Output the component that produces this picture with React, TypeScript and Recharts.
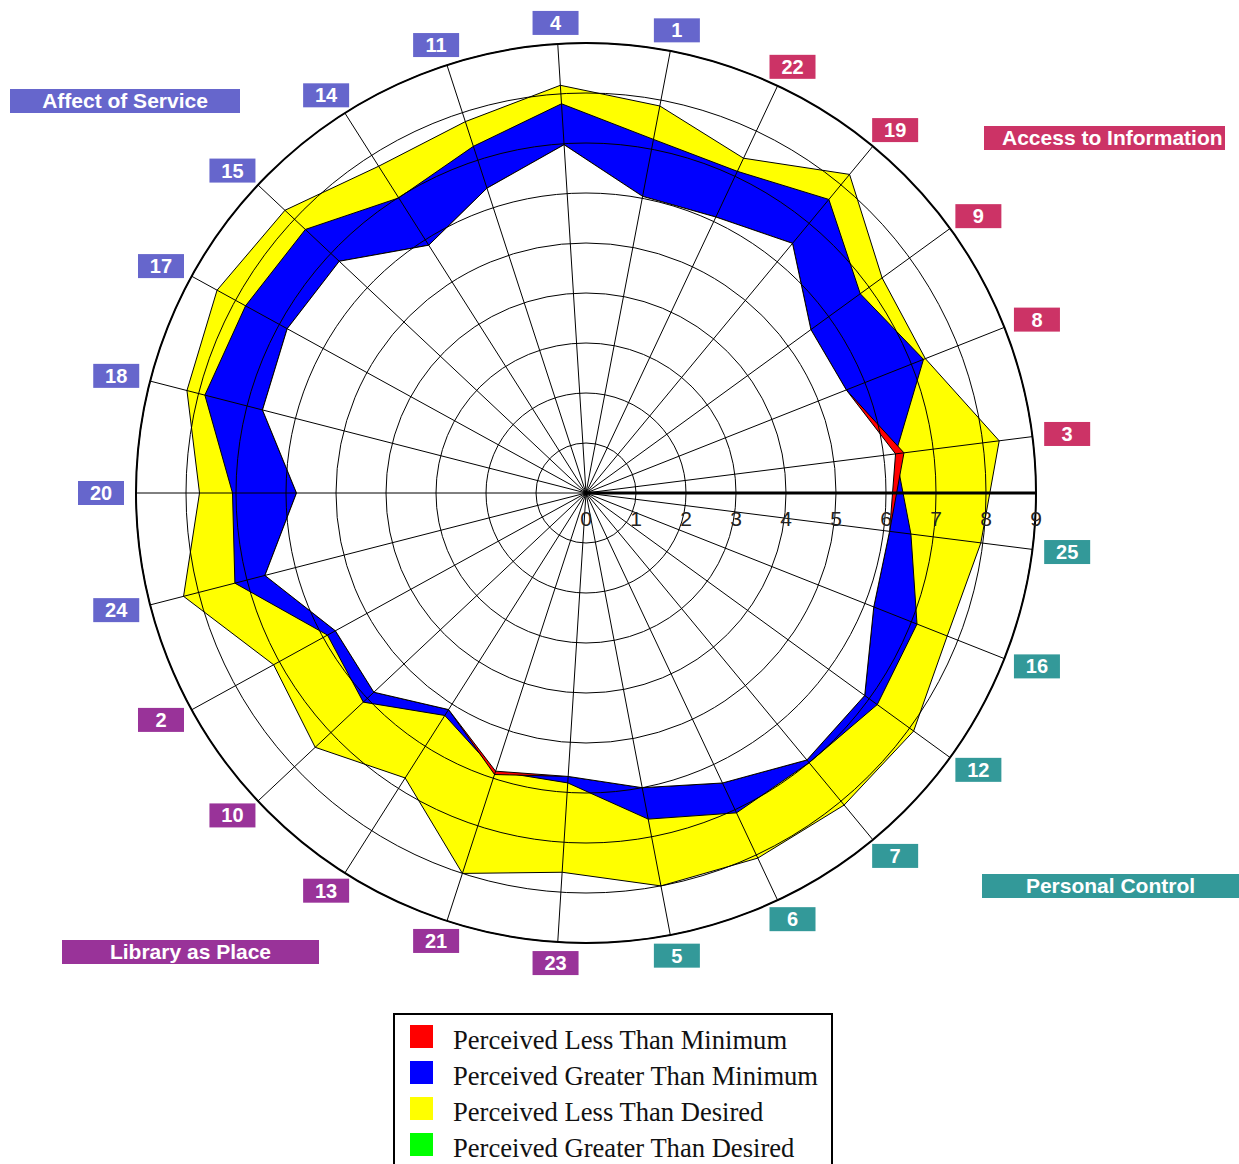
import React from 'react';
import { RadarChart, Radar, PolarGrid, PolarAngleAxis, PolarRadiusAxis } from 'recharts';

// items clockwise from the top
const items = ['4', '1', '22', '19', '9', '8', '3', '25', '16', '12', '7', '6', '5', '23', '21', '13', '10', '2', '24', '20', '18', '17', '15', '14', '11'];
const desired = [8.17, 7.88, 7.4, 8.27, 7.32, 7.3, 8.33, 7.96, 7.77, 8.1, 8.1, 8.07, 8.0, 7.6, 8.0, 6.75, 7.43, 7.13, 8.31, 7.73, 8.24, 8.42, 8.26, 7.74, 7.81];
const perceived = [7.8, 7.2, 7.11, 7.62, 6.78, 7.26, 6.24, 6.55, 7.12, 7.2, 7.0, 7.07, 6.64, 5.81, 5.85, 5.27, 6.11, 5.9, 7.25, 7.07, 7.87, 7.77, 7.7, 6.99, 7.29];
const minimum = [6.98, 6.04, 6.1, 6.48, 5.56, 5.6, 6.41, 6.12, 6.19, 6.89, 6.93, 6.41, 6.0, 5.68, 5.92, 5.13, 5.82, 5.72, 6.63, 5.79, 6.68, 6.82, 6.77, 5.87, 6.41];

const affectOfService = ['4', '1', '11', '14', '15', '17', '18', '20', '24'];
const accessToInformation = ['22', '19', '9', '8', '3'];
const personalControl = ['25', '16', '12', '7', '6', '5'];
const libraryAsPlace = ['23', '21', '13', '10', '2'];

const legendLabels = [
  'Perceived Less Than Minimum',
  'Perceived Greater Than Minimum',
  'Perceived Less Than Desired',
  'Perceived Greater Than Desired',
];
const legendColors = ['#ff0000', '#0000ff', '#ffff00', '#00ff00'];

const AFFECT = '#6666cc';
const ACCESS = '#cc3366';
const CONTROL = '#339999';
const PLACE = '#993399';

const CX = 586;
const CY = 493;
const R = 450;
const START = 93.6;
const SANS = '"Liberation Sans", Arial, sans-serif';
const SERIF = '"Liberation Serif", "Times New Roman", serif';

const data = items.map((item, i) => ({
  item,
  desired: desired[i],
  perceived: perceived[i],
  minimum: minimum[i],
  inner: Math.min(perceived[i], minimum[i]),
}));

function groupColor(item: string) {
  if (affectOfService.includes(item)) return AFFECT;
  if (accessToInformation.includes(item)) return ACCESS;
  if (personalControl.includes(item)) return CONTROL;
  return PLACE;
}

// boxes sit just outside the outer ring, pushed out more at the sides
function ItemTick(props: any) {
  const value = String(props.payload.value);
  const i = items.indexOf(value);
  const rad = ((START - (i * 360) / items.length) * Math.PI) / 180;
  const c = Math.cos(rad);
  const s = Math.sin(rad);
  const x = CX + (R + 35) * c;
  const y = CY - (R + 21) * s;
  return (
    <g>
      <rect x={x - 23} y={y - 12} width={46} height={24} fill={groupColor(value)} />
      <text x={x} y={y + 7} textAnchor="middle" fill="#fff" fontWeight="bold" fontSize={20} fontFamily={SANS}>
        {value}
      </text>
    </g>
  );
}

function ScaleTick(props: any) {
  return (
    <text x={props.x} y={props.y + 33} textAnchor="middle" fill="#222" fontSize={21} fontFamily={SANS}>
      {props.payload.value}
    </text>
  );
}

const groupBox = (left: number, top: number, width: number, color: string, text: string, extra: any = {}) => (
  <div
    style={{
      position: 'absolute',
      left,
      top,
      width,
      height: 24,
      lineHeight: '24px',
      background: color,
      color: '#fff',
      fontFamily: SANS,
      fontWeight: 'bold',
      fontSize: 21,
      textAlign: 'center',
      whiteSpace: 'nowrap',
      boxSizing: 'border-box',
      ...extra,
    }}
  >
    {text}
  </div>
);

export default function App() {
  return (
    <div style={{ position: 'absolute', left: 0, top: 0, width: 1239, height: 1164, overflow: 'hidden', background: '#fff' }}>
      <div style={{ position: 'absolute', left: 0, top: 0 }}>
        <RadarChart
          width={1239}
          height={1000}
          data={data}
          cx={CX}
          cy={CY}
          outerRadius={R}
          startAngle={START}
          endAngle={START - 360}
          margin={{ top: 0, right: 0, bottom: 0, left: 0 }}
        >
          <PolarAngleAxis
            dataKey="item"
            axisLineType="circle"
            axisLine={{ stroke: '#000', strokeWidth: 2 }}
            tickLine={false}
            tick={ItemTick}
          />
          <Radar dataKey="desired" fill="#ffff00" fillOpacity={1} stroke="#000" strokeWidth={1} dot={false} isAnimationActive={false} />
          <Radar dataKey="perceived" fill="#0000ff" fillOpacity={1} stroke="#000" strokeWidth={1} dot={false} isAnimationActive={false} />
          <Radar dataKey="minimum" fill="#ff0000" fillOpacity={1} stroke="#000" strokeWidth={1} dot={false} isAnimationActive={false} />
          <Radar dataKey="inner" fill="#ffffff" fillOpacity={1} stroke="#000" strokeWidth={1} dot={false} isAnimationActive={false} />
          <PolarGrid gridType="circle" stroke="#000" strokeWidth={1} zIndex={500} />
          <PolarRadiusAxis
            angle={0}
            domain={[0, 9]}
            type="number"
            tickCount={10}
            axisLine={{ stroke: '#000', strokeWidth: 3 }}
            tickLine={false}
            tick={ScaleTick}
            zIndex={600}
          />
        </RadarChart>
      </div>

      {groupBox(10, 89, 230, AFFECT, 'Affect of Service')}
      {groupBox(984, 126, 241, ACCESS, 'Access to Information', { textAlign: 'left', paddingLeft: 18 })}
      {groupBox(982, 874, 257, CONTROL, 'Personal Control')}
      {groupBox(62, 940, 257, PLACE, 'Library as Place')}

      <div
        style={{
          position: 'absolute',
          left: 393,
          top: 1013,
          width: 440,
          height: 180,
          border: '2px solid #000',
          boxSizing: 'border-box',
          background: '#fff',
        }}
      >
        {legendLabels.map((label, k) => (
          <React.Fragment key={label}>
            <div style={{ position: 'absolute', left: 15, top: 10 + 36 * k, width: 23, height: 23, background: legendColors[k] }} />
            <div
              style={{
                position: 'absolute',
                left: 58,
                top: 12 + 36 * k,
                fontFamily: SERIF,
                fontSize: 26.6,
                lineHeight: '26px',
                color: '#111',
                whiteSpace: 'nowrap',
              }}
            >
              {label}
            </div>
          </React.Fragment>
        ))}
      </div>
    </div>
  );
}
